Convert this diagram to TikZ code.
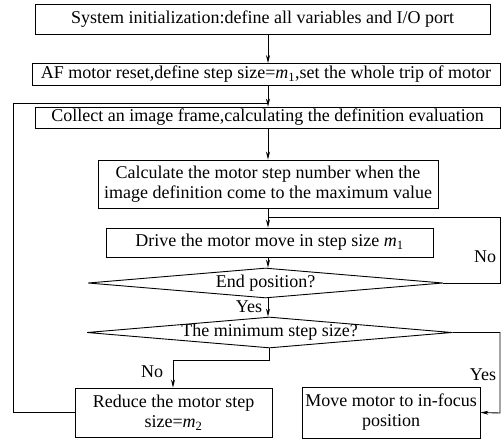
\documentclass[tikz,border=0pt]{standalone}
\usepackage{fontspec}
\setmainfont{Liberation Serif}
\usetikzlibrary{shapes.geometric,arrows.meta}
\newcommand{\mvar}[1]{{\itshape m}\textsubscript{#1}}
\begin{document}
\begin{tikzpicture}[x=1pt,y=-1pt,
  box/.style={draw,line width=0.9pt,inner sep=0pt,align=center,font=\fontsize{18}{20}\selectfont},
  dia/.style={draw,line width=0.9pt,diamond,inner sep=0pt},
  lab/.style={font=\fontsize{18}{20}\selectfont},
  line/.style={line width=0.9pt},
  arr/.style={line width=0.9pt,-{Stealth[length=8pt,width=4pt]}}]
\useasboundingbox (0,0) rectangle (502,443);
\node[box,minimum width=455,minimum height=30] (b1) at (262.5,19.5) {System initialization:define all variables and I/O port};
\node[box,minimum width=468,minimum height=22] (b2) at (266,74.5) {AF motor reset,define step size=\mvar{1},set the whole trip of motor};
\node[box,minimum width=465,minimum height=21] (b3) at (267.5,117.5) {Collect an image frame,calculating the definition evaluation};
\node[box,minimum width=340,minimum height=48] (b4) at (268,184) {Calculate the motor step number when the\\image definition come to the maximum value};
\node[box,minimum width=327,minimum height=29] (b5) at (269.5,242.5) {Drive the motor move in step size \mvar{1}};
\node[dia,minimum width=355,minimum height=30,label={[lab]center:End position?}] (d1) at (265.5,283) {};
\node[dia,minimum width=365,minimum height=31,label={[lab]center:The minimum step size?}] (d2) at (269.5,332.5) {};
\node[box,minimum width=197,minimum height=49] (b6) at (173.5,412.5) {Reduce the motor step\\size=\mvar{2}};
\node[box,minimum width=178,minimum height=51] (b7) at (391,412.5) {Move motor to in-focus\\position};
\coordinate (xc) at (268,0);
\coordinate (lx) at (13,103);
\coordinate (lj) at (268,103);
\coordinate (rx) at (500,217);
\coordinate (rj) at (268,217);
\coordinate (nj) at (173,360);
\coordinate (yc) at (500,413);
\draw[arr] (b1.south -| xc) -- (b2.north -| xc);
\draw[arr] (b2.south -| xc) -- (b3.north -| xc);
\draw[arr] (b3.south -| xc) -- (b4.north -| xc);
\draw[arr] (b4.south -| xc) -- (b5.north -| xc);
\draw[arr] (b5.south -| xc) -- (d1.north -| xc);
\draw[arr] (d1.south -| xc) -- (d2.north -| xc);
\draw[line] (d1.east) -| (rx) -- (rj);
\draw[line] (b6.west) -| (lx) -- (lj);
\draw[arr] (d2.south) |- (nj) -- (b6.north -| nj);
\draw[arr] (d2.east) -| (yc) -- (b7.east);
\node[lab] (no1) at (485,257) {No};
\node[lab] (yes1) at (249,307) {Yes};
\node[lab] (no2) at (152,372) {No};
\node[lab] (yes2) at (483,375) {Yes};
\end{tikzpicture}
\end{document}
